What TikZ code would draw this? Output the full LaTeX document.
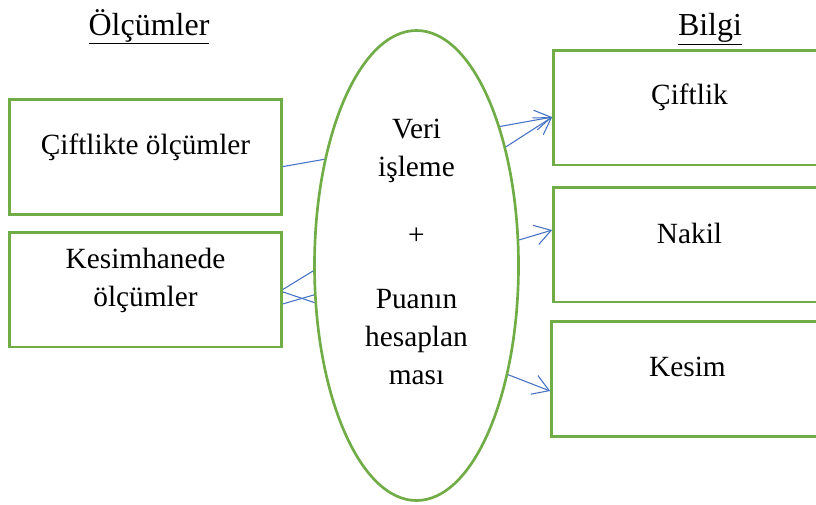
\documentclass[tikz,border=0pt]{standalone}
\usepackage{fontspec}
\setmainfont{Liberation Serif}
\usetikzlibrary{shapes.geometric,arrows.meta}
\definecolor{yesil}{RGB}{112,173,71}
\definecolor{mavi}{RGB}{68,114,196}

\begin{document}
\begin{tikzpicture}[x=0.75pt, y=-0.75pt,
    kutu/.style = {draw=yesil, line width=2pt, minimum width=204pt, minimum height=86pt, inner sep=0pt},
    elips/.style = {draw=yesil, line width=2pt, ellipse, minimum width=153pt, minimum height=352.5pt, inner sep=0pt},
    yazi/.style = {font=\fontsize{22}{28.5}\selectfont, align=center, inner sep=0pt},
    baslik/.style = {font=\fontsize{24}{28}\selectfont, inner sep=0pt, anchor=base},
    cizgi/.style = {draw=mavi, line width=0.8pt},
    ok/.style = {cizgi, -{Straight Barb[length=12pt,width=15pt]}}]
    \clip (0,0) rectangle (816,504);

    \node[baslik] (olcum) at (149,35) {\underline{Ölçümler}};
    \node[baslik] (bilgi) at (710,35) {\underline{Bilgi}};

    \node[kutu] (ciftlikte) at (145.5,157) {};
    \node[kutu] (kesimhane) at (145.5,289.5) {};

    \node[elips] (veri) at (416.5,265.5) {};

    \node[kutu] (ciftlik) at (689.5,107.5) {};
    \node[kutu] (nakil) at (689.5,244.5) {};
    \node[kutu] (kesim) at (687.5,379) {};

    % base = baseline of the last line
    \node[yazi, anchor=base] (tciftlikte) at ([yshift=-42pt]ciftlikte.north) {Çiftlikte ölçümler};
    \node[yazi, anchor=base] (tkesimhane) at ([yshift=-57pt]kesimhane.north) {Kesimhanede\\ölçümler};
    \node[yazi, anchor=base] (tveri) at ([yshift=-89.6pt]veri.center) {Veri\\işleme\\[22pt]+\\[20pt]Puanın\\hesaplan\\ması};
    \node[yazi, anchor=base] (tciftlik) at ([yshift=-42pt]ciftlik.north) {Çiftlik};
    \node[yazi, anchor=base] (tnakil) at ([yshift=-43.5pt]nakil.north) {Nakil};
    \node[yazi, anchor=base] (tkesim) at ([yshift=-42pt]kesim.north) {Kesim};

    \draw[cizgi] (ciftlikte.-4.2) -- (veri.131);
    \draw[cizgi] (kesimhane.0) -- (veri.183);
    \draw[cizgi] (kesimhane.-1.5) -- (veri.200);
    \draw[cizgi] (kesimhane.-6.1) -- (veri.196);

    \draw[ok] (veri.59) -- (ciftlik.184);
    \draw[ok] (veri.53.5) -- (ciftlik.184);
    \draw[ok] (veri.14.5) -- (nakil.174.8);
    \draw[ok] (veri.-50.9) -- (kesim.185.9);

\end{tikzpicture}
\end{document}
